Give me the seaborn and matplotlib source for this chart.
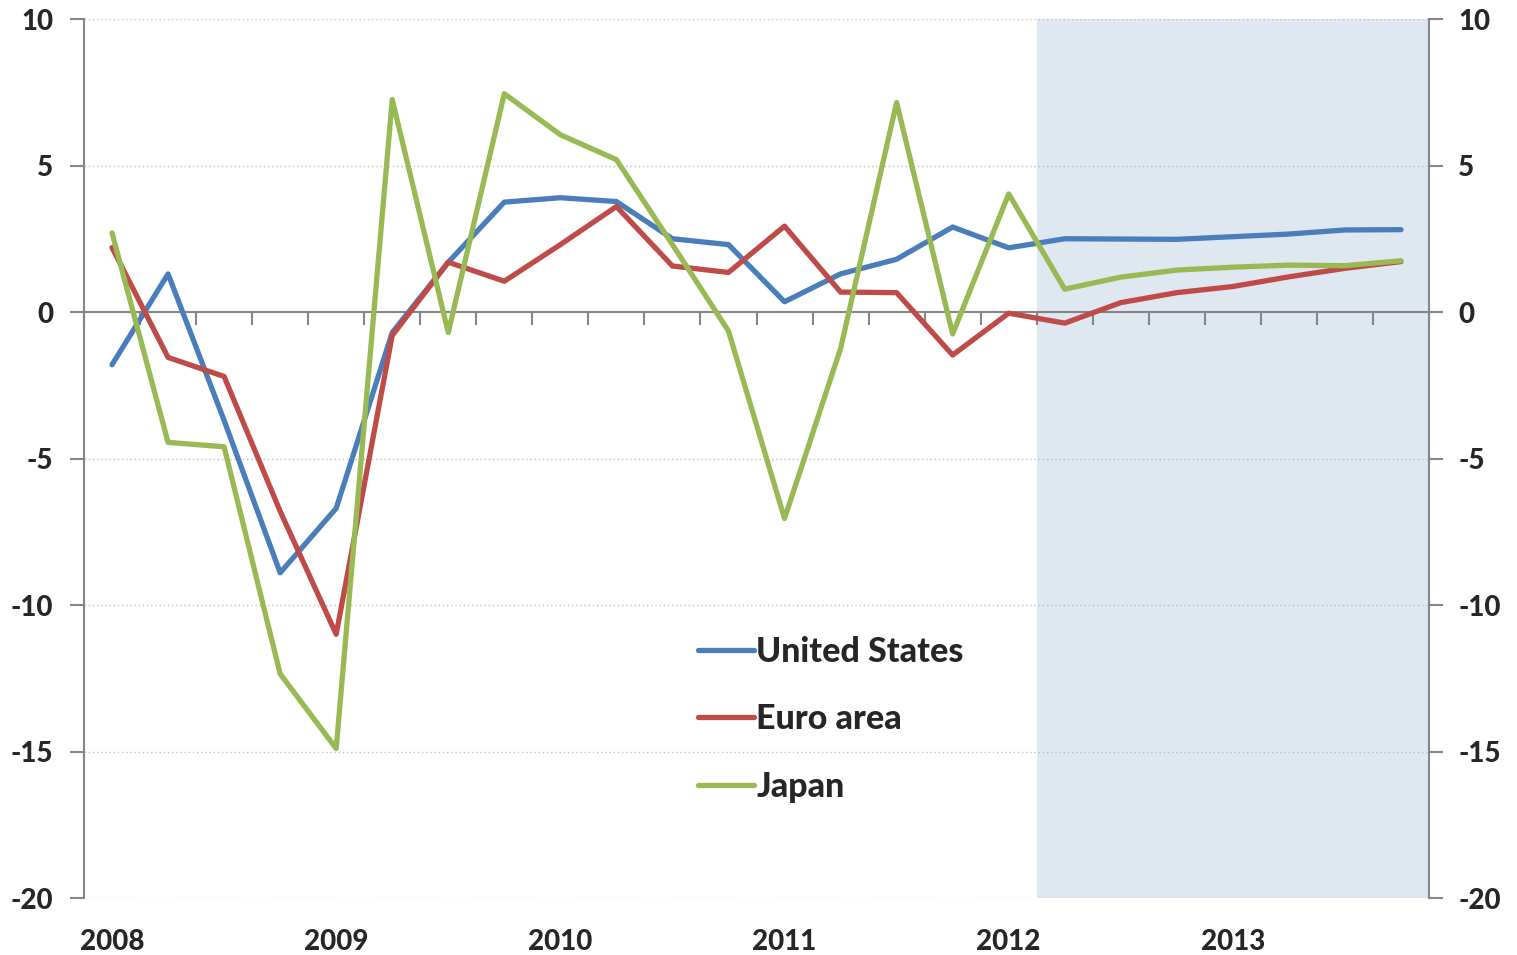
import numpy as np
import pandas as pd
import matplotlib
matplotlib.use("Agg")
import matplotlib.pyplot as plt
import seaborn as sns
from matplotlib.lines import Line2D

# ---------------- data ----------------
quarters = [f"{y}Q{q}" for y in range(2008, 2014) for q in range(1, 5)]
united_states = [-1.8, 1.3, -3.7, -8.9, -6.7, -0.7, 1.7, 3.75, 3.9, 3.77, 2.5, 2.3,
                 0.35, 1.3, 1.8, 2.9, 2.19, 2.5, 2.49, 2.48, 2.57, 2.66, 2.8, 2.81]
euro_area = [2.2, -1.55, -2.2, -6.8, -11.0, -0.8, 1.7, 1.05, 2.3, 3.6, 1.57, 1.35,
             2.93, 0.68, 0.66, -1.47, -0.04, -0.38, 0.32, 0.66, 0.87, 1.2, 1.49, 1.72]
japan = [2.7, -4.45, -4.6, -12.35, -14.9, 7.25, -0.7, 7.45, 6.05, 5.2, 2.3, -0.65,
         -7.05, -1.25, 7.15, -0.75, 4.03, 0.78, 1.19, 1.43, 1.53, 1.6, 1.58, 1.75]
series_names = ["United States", "Euro area", "Japan"]
series_colors = ["#4A7EBB", "#BE4B48", "#98B954"]
forecast_start = "2012Q2"
y_ticks = [10, 5, 0, -5, -10, -15, -20]
year_labels = ["2008", "2009", "2010", "2011", "2012", "2013"]

# ---------------- build long frame ----------------
n = len(quarters)
df = pd.DataFrame({
    "idx": np.tile(np.arange(n), 3),
    "value": united_states + euro_area + japan,
    "series": np.repeat(series_names, n),
})

sns.set_theme(style="white")
plt.rcParams["font.family"] = ["Lato", "DejaVu Sans"]
plt.rcParams["font.weight"] = "black"
WEIGHT = "black"

W, H = 1517, 955
fig = plt.figure(figsize=(W / 100, H / 100), dpi=100)
ax = fig.add_axes([84 / W, 1 - 898 / H, (1429 - 84) / W, (898 - 19) / H])

# forecast shading
fs = quarters.index(forecast_start)
ax.axvspan(fs - 0.5, n - 0.5, color="#DFE7F1", zorder=0, lw=0)

# gridlines
for yv in y_ticks:
    if yv != 0:
        ax.axhline(yv, color="#BFBFBF", lw=1.0, ls=(0, (1, 2)), zorder=1)

sns.lineplot(data=df, x="idx", y="value", hue="series", hue_order=series_names,
             palette=series_colors, linewidth=3.8, ax=ax, legend=False, zorder=3,
             solid_capstyle="round", solid_joinstyle="round")

ax.set_xlim(-0.5, n - 0.5)
ax.set_ylim(-20, 10)
ax.set_xlabel("")
ax.set_ylabel("")

gray = "#868686"
for s in ["top", "right"]:
    ax.spines[s].set_visible(False)
ax.spines["left"].set_color(gray)
ax.spines["left"].set_linewidth(1.5)
ax.spines["bottom"].set_position(("data", 0))
ax.spines["bottom"].set_color(gray)
ax.spines["bottom"].set_linewidth(1.5)
ax.spines["bottom"].set_zorder(2)

ax.set_xticks(np.arange(-0.5, n, 1.0))
ax.set_xticklabels([])
ax.tick_params(axis="x", direction="out", length=9, width=1.5, color=gray, bottom=True)

ax.set_yticks(y_ticks)
ax.set_yticklabels([str(v) for v in y_ticks], fontsize=20, fontweight=WEIGHT)
ax.tick_params(axis="y", direction="out", length=10, width=1.5, color=gray,
               left=True, pad=12)

# year labels
sec = ax.secondary_xaxis("bottom")
sec.set_xticks([quarters.index(f"{y}Q1") for y in year_labels])
sec.set_xticklabels(year_labels, fontsize=20, fontweight=WEIGHT)
sec.tick_params(length=0, pad=22)
sec.spines["bottom"].set_visible(False)

# right axis
ax2 = ax.twinx()
ax2.set_ylim(-20, 10)
ax2.set_yticks(y_ticks)
ax2.set_yticklabels([str(v) for v in y_ticks], fontsize=20, fontweight=WEIGHT)
ax2.tick_params(axis="y", direction="out", length=10, width=1.5, color=gray,
                right=True, pad=11)
for s in ["top", "left", "bottom"]:
    ax2.spines[s].set_visible(False)
ax2.spines["right"].set_color(gray)
ax2.spines["right"].set_linewidth(1.5)
ax2.grid(False)
ax.grid(False)

# legend
handles = [Line2D([], [], color=c, lw=3.8, solid_capstyle="round") for c in series_colors]
leg = ax.legend(handles, series_names, loc="upper left",
                bbox_to_anchor=((684 - 84) / (1429 - 84), 1 - (622 - 19) / (898 - 19)),
                frameon=False, handlelength=1.65, handletextpad=0.08,
                labelspacing=1.05, borderaxespad=0,
                prop={"size": 24.5, "weight": WEIGHT})

fig.savefig("out.png", dpi=100)
